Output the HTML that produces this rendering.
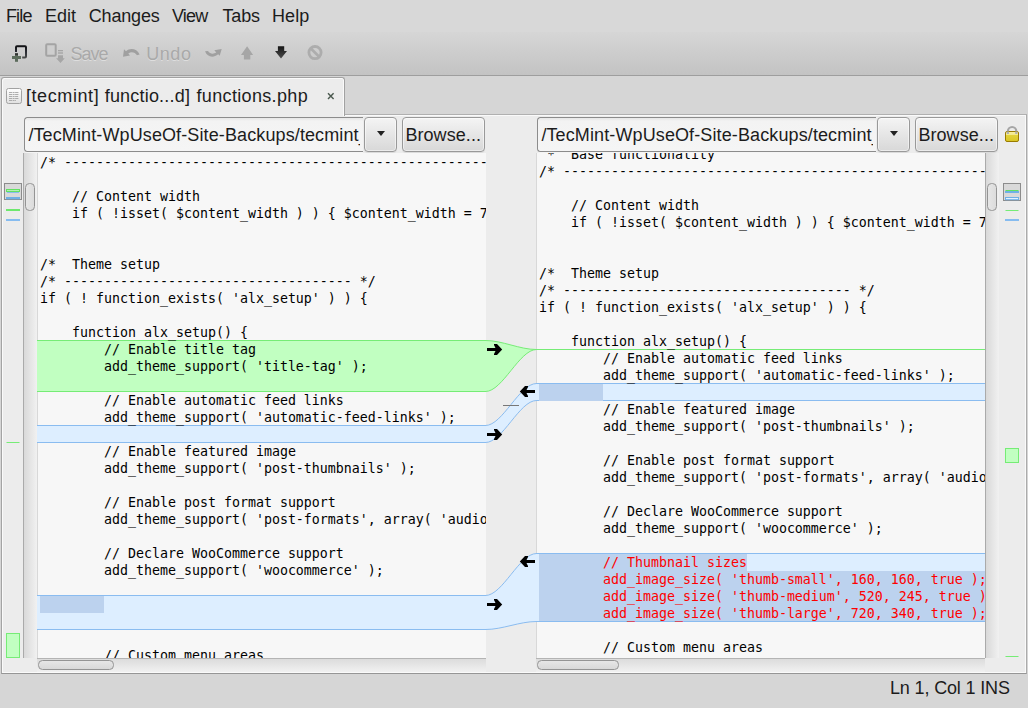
<!DOCTYPE html>
<html><head><meta charset="utf-8"><title>Meld</title>
<style>
*{box-sizing:border-box}
html,body{margin:0;padding:0}
body{width:1028px;height:708px;overflow:hidden;position:relative;background:#d6d6d6;font-family:"Liberation Sans","DejaVu Sans",sans-serif;font-size:18px;color:#1c1c1c}
.abs{position:absolute}
#menubar{left:0;top:0;width:1028px;height:32px;background:#d8d8d8}
#menubar span{position:absolute;top:4px;line-height:24px;white-space:nowrap}
#toolbar{left:0;top:32px;width:1028px;height:44px;background:linear-gradient(#d6d6d6,#c3c3c3);border-bottom:1px solid #9e9e9e}
#toolbar .lbl{position:absolute;top:10px;line-height:24px;color:#a9a9a9;text-shadow:0 1px 0 #dedede;white-space:nowrap}
#tab{left:1px;top:77px;width:344px;height:39px;background:#ececec;border:1px solid #a2a2a2;border-bottom:none;border-radius:3px 3px 0 0;box-shadow:inset 1px 1px 0 #fafafa,inset -1px 0 0 #fafafa}
#nbpage{left:1px;top:114px;width:1026px;height:560px;background:#ececec;border:1px solid #a4a4a4;border-top-color:#b0b0b0;border-right-color:#ababab;border-bottom-color:#969696;box-shadow:inset 1px 1px 0 #fafafa,inset -1px -1px 0 #fafafa}
.entry{height:35px;top:117px;border:1px solid #8c8c8c;border-right:none;border-radius:3.5px 0 0 3.5px;box-shadow:0 1px 0 #f5f5f5;background:linear-gradient(#e6e6e6,#f3f3f3 3px,#f5f5f5);overflow:hidden;white-space:nowrap;line-height:34px;padding-left:3.4px;letter-spacing:.114px}
.clip{width:331.9px;overflow:hidden;height:33px}
.btn{height:35px;top:117px;border:1px solid #999;border-radius:4px;background:linear-gradient(#f4f4f4,#d8d8d8);box-shadow:inset 0 0 0 1px rgba(255,255,255,.5),0 1px 0 rgba(0,0,0,.07);text-align:center;line-height:35px;white-space:nowrap}
.tt{top:6px;line-height:24px;white-space:nowrap}
.tv{background:#f7f7f7}
.code{position:absolute;left:0;font-family:"DejaVu Sans Mono","Liberation Mono",monospace;font-size:13.29px;line-height:17px;white-space:pre;color:#000}
.code div{height:17px}
.code .r{color:#f00}
.sbv{background:linear-gradient(90deg,#d9d9d9,#f1f1f1);border-left:1px solid #aaa}
.sbh{background:linear-gradient(#dcdcdc,#f1f1f1);border-top:1px solid #b4b4b4}
.thumb{background:linear-gradient(90deg,#e6e6e6,#dcdcdc);border:1px solid #949494;border-radius:4.5px}
.thumbh{background:linear-gradient(#e6e6e6,#d8d8d8);border:1px solid #949494;border-radius:4.5px}
.chunk{border-top:1px solid;border-bottom:1px solid}
.chunk.g{background:#c1ffc1;border-color:#76ec76}
.chunk.b{background:#ddeeff;border-color:#8abcf0}
.inl{background:#bcd2ee}
#status{left:0;top:675px;width:1028px;height:33px;background:#d6d6d6}
</style></head><body>
<div id="menubar" class="abs">
<span style="left:5.9px;letter-spacing:-.83px">File</span><span style="left:45px">Edit</span><span style="left:88.8px;letter-spacing:-.19px">Changes</span><span style="left:171.9px;letter-spacing:-.76px">View</span><span style="left:222.5px;letter-spacing:-.17px">Tabs</span><span style="left:272px;letter-spacing:.1px">Help</span>
</div>
<div id="toolbar" class="abs">
<span class="lbl" style="left:70.5px;letter-spacing:-.97px">Save</span><span class="lbl" style="left:146.3px;letter-spacing:.53px">Undo</span>
</div>
<div id="nbpage" class="abs"></div>
<div id="tab" class="abs"><span class="abs tt" style="left:23.9px;letter-spacing:.6px">[tecmint]</span><span class="abs tt" style="left:102.7px;letter-spacing:.2px">functio...d]</span><span class="abs tt" style="left:194.5px;letter-spacing:.34px">functions.php</span>
</div>

<!-- file choosers -->
<div class="abs entry" style="left:24px;width:339px"><div class="clip">/TecMint-WpUseOf-Site-Backups/tecmint_</div></div>
<div class="abs btn" style="left:364px;width:33px"><i class="abs" style="left:11.5px;top:13px;border:4.5px solid transparent;border-top:5.5px solid #222;border-bottom:none"></i></div>
<div class="abs btn" style="left:402px;width:83px;letter-spacing:.07px;text-align:left;padding-left:2.4px">Browse...</div>
<div class="abs entry" style="left:537px;width:339px"><div class="clip">/TecMint-WpUseOf-Site-Backups/tecmint_</div></div>
<div class="abs btn" style="left:877px;width:33px"><i class="abs" style="left:11.5px;top:13px;border:4.5px solid transparent;border-top:5.5px solid #222;border-bottom:none"></i></div>
<div class="abs btn" style="left:915px;width:83px;letter-spacing:.07px;text-align:left;padding-left:2.4px">Browse...</div>
<svg class="abs" style="left:0;top:32px" width="1028" height="120" viewBox="0 32 1028 120">
<defs><linearGradient id="gd" x1="0" y1="0" x2="0" y2="1"><stop offset="0" stop-color="#161616"/><stop offset="1" stop-color="#4c4c4c"/></linearGradient>
<linearGradient id="gn" gradientUnits="userSpaceOnUse" x1="0" y1="45" x2="0" y2="59"><stop offset="0" stop-color="#0c0c0e"/><stop offset=".5" stop-color="#2a2c34"/><stop offset="1" stop-color="#4e504e"/></linearGradient>
<linearGradient id="gi" x1="0" y1="0" x2="0" y2="1"><stop offset="0" stop-color="#fff"/><stop offset="1" stop-color="#e0e0e0"/></linearGradient>
<linearGradient id="gl" x1="0" y1="0" x2="0" y2="1"><stop offset="0" stop-color="#f6eea0"/><stop offset=".35" stop-color="#f3e98a"/><stop offset=".36" stop-color="#e2d23a"/><stop offset="1" stop-color="#d9c626"/></linearGradient></defs>
<!-- new -->
<path d="M16,52V47.2Q16,46.2 17,46.2H25Q26,46.2 26,47.2V56.5Q26,57.5 25,57.5H22.2" fill="none" stroke="url(#gn)" stroke-width="2"/>
<rect x="15" y="53.3" width="3" height="8.5" fill="#5c6c5c"/><rect x="12" y="56" width="9" height="3" fill="#5c6c5c"/><rect x="15" y="53.3" width="3" height="2" fill="#333"/>
<!-- save -->
<rect x="46.2" y="44.3" width="9.5" height="11.5" rx="1" fill="#cecece" stroke="#a4a4a4" stroke-width="2"/>
<rect x="58" y="50" width="5" height="1.3" fill="#a6a6a6"/><rect x="58" y="52.3" width="5" height="1.4" fill="#a6a6a6"/>
<path d="M58,55.3H63V58.2H64.8L60.5,62.9L56.1,58.2H58Z" fill="#a6a6a6"/>
<!-- undo -->
<path d="M124,49.3L123,56.8L130,55.6L128.3,53.5C131,51.5 135,52 137,55.3L139.6,54.5C137,48.5 130,47.5 126,51.3Z" fill="#a0a0a0"/>
<!-- redo -->
<path d="M205,51.3L208,50.9C210,54 213,54.3 216.3,52.6L214.3,50.3L221.7,49L219.7,55.8L218.2,54.3C213.5,58 207.5,57.5 205,51.3Z" fill="#a0a0a0"/>
<!-- up -->
<path d="M247.1,46.3L253.1,55H250.3V59.6H243.9V55H241Z" fill="#a6a6a6"/>
<!-- down -->
<path d="M277.9,46.3H284.2V51H287L281,58.6L275,51H277.9Z" fill="url(#gd)"/>
<!-- stop -->
<circle cx="315" cy="52.6" r="6.1" fill="none" stroke="#adadad" stroke-width="2.8"/><path d="M310.6,48.2L319.4,57" stroke="#adadad" stroke-width="2.7"/>
<!-- tab icon -->
<rect x="6.5" y="88.5" width="15" height="15" rx="2" fill="url(#gi)" stroke="#a2a2a2"/>
<path d="M9,92.5H19M9,94.5H19M9,96.5H18.5M9,98.5H19M9,100.5H16" stroke="#a4a4a4" stroke-width=".9" stroke-dasharray="3 .6 2 .5"/>
<!-- close -->
<path d="M328,93.3L333.6,98.9M333.6,93.3L328,98.9" stroke="#4c5a50" stroke-width="1.45"/>
<!-- lock -->
<path d="M1007.9,133V131.2A4.2,4.2 0 0 1 1016.3,131.2V133" fill="none" stroke="#a6a6a6" stroke-width="2.2"/>
<rect x="1005.5" y="131.5" width="13" height="10" rx="1.5" fill="url(#gl)" stroke="#9a7c00"/>
<path d="M1007.9,134V131.5M1016.3,134V131.5" stroke="#b0b0b0" stroke-width="2.2"/>
</svg>


<!-- left diffmap -->
<svg class="abs" style="left:0;top:152px" width="1028" height="520" viewBox="0 152 1028 520">
<rect x="4.5" y="183.5" width="17" height="16" fill="#d9d9d9" stroke="#8c8c8c"/>
<rect x="7" y="192" width="12" height="1" fill="#8abcf0"/>
<rect x="6.5" y="189.5" width="13" height="2" fill="#b4f0b4" stroke="#62e062"/>
<rect x="6" y="197" width="14" height="2.3" fill="#6fb0e6"/>
<rect x="6" y="209" width="14" height="2" fill="#6ee86e"/>
<rect x="6" y="219" width="14" height="2" fill="#86bcf0"/>
<rect x="6.5" y="442" width="13" height="1" fill="#76ec76"/>
<rect x="6.5" y="633.5" width="13" height="24" fill="#c1ffc1" stroke="#76ec76"/>
<rect x="1003.5" y="183.5" width="17" height="17" fill="#d9d9d9" stroke="#8c8c8c"/>
<rect x="1005.5" y="190" width="13" height="1" fill="#62e062"/>
<rect x="1005" y="191" width="14" height="2" fill="#6fb0e6"/>
<rect x="1005.5" y="197.5" width="13" height="2.2" fill="#e4f1ff" stroke="#6fb0e6"/>
<rect x="1005.5" y="210" width="13" height="1" fill="#76ec76"/>
<rect x="1005" y="219" width="14" height="2" fill="#86bcf0"/>
<rect x="1005.5" y="448.5" width="13" height="14" fill="#c1ffc1" stroke="#76ec76"/>
<rect x="1005.5" y="656" width="13" height="1" fill="#76ec76"/>
</svg>

<!-- left pane -->
<div class="abs sbv" style="left:23px;top:153px;width:14px;height:505px"></div>
<div class="abs thumb" style="left:25px;top:183px;width:10px;height:28px"></div>
<div class="abs tv" style="left:37px;top:153px;width:449px;height:506px;border-left:1px solid #d8d8d8"></div>
<div class="abs chunk g" style="left:37px;top:340px;width:449px;height:52px"></div>
<div class="abs chunk b" style="left:37px;top:425px;width:449px;height:18px"></div>
<div class="abs chunk b" style="left:37px;top:595px;width:449px;height:35px"></div>
<div class="abs inl" style="left:40px;top:596px;width:64px;height:17px"></div>
<div class="abs" style="left:38px;top:153px;width:448px;height:505px;overflow:hidden"><div class="code" style="top:1px;left:2px"><div>/* ------------------------------------------------------------------------- *</div><div>&nbsp;</div><div>    // Content width</div><div>    if ( !isset( $content_width ) ) { $content_width = 720; }</div><div>&nbsp;</div><div>&nbsp;</div><div>/*  Theme setup</div><div>/* ------------------------------------ */</div><div>if ( ! function_exists( 'alx_setup' ) ) {</div><div>&nbsp;</div><div>    function alx_setup() {</div><div>        // Enable title tag</div><div>        add_theme_support( 'title-tag' );</div><div>&nbsp;</div><div>        // Enable automatic feed links</div><div>        add_theme_support( 'automatic-feed-links' );</div><div>&nbsp;</div><div>        // Enable featured image</div><div>        add_theme_support( 'post-thumbnails' );</div><div>&nbsp;</div><div>        // Enable post format support</div><div>        add_theme_support( 'post-formats', array( 'audio', 'aside' ) );</div><div>&nbsp;</div><div>        // Declare WooCommerce support</div><div>        add_theme_support( 'woocommerce' );</div><div>&nbsp;</div><div>&nbsp;</div><div>&nbsp;</div><div>&nbsp;</div><div>        // Custom menu areas</div></div></div>
<div class="abs sbh" style="left:37px;top:658px;width:449px;height:14px"></div>
<div class="abs thumbh" style="left:38px;top:660px;width:76px;height:10px"></div>

<!-- right pane -->
<div class="abs tv" style="left:536px;top:153px;width:449px;height:506px;border-left:1px solid #d8d8d8"></div>
<div class="abs" style="left:536px;top:349px;width:449px;height:1px;background:#76ec76"></div>
<div class="abs chunk b" style="left:536px;top:383px;width:449px;height:18px"></div>
<div class="abs inl" style="left:539px;top:384px;width:64px;height:17px"></div>
<div class="abs chunk b" style="left:536px;top:553px;width:449px;height:69px"></div>
<div class="abs inl" style="left:539px;top:554px;width:208px;height:17px"></div>
<div class="abs inl" style="left:539px;top:571px;width:446px;height:50px"></div>
<div class="abs" style="left:537px;top:153px;width:448px;height:505px;overflow:hidden"><div class="code" style="top:-7px;left:2px"><div> *  Base functionality</div><div>/* ------------------------------------------------------------------------- *</div><div>&nbsp;</div><div>    // Content width</div><div>    if ( !isset( $content_width ) ) { $content_width = 720; }</div><div>&nbsp;</div><div>&nbsp;</div><div>/*  Theme setup</div><div>/* ------------------------------------ */</div><div>if ( ! function_exists( 'alx_setup' ) ) {</div><div>&nbsp;</div><div>    function alx_setup() {</div><div>        // Enable automatic feed links</div><div>        add_theme_support( 'automatic-feed-links' );</div><div>&nbsp;</div><div>        // Enable featured image</div><div>        add_theme_support( 'post-thumbnails' );</div><div>&nbsp;</div><div>        // Enable post format support</div><div>        add_theme_support( 'post-formats', array( 'audio', 'aside' ) );</div><div>&nbsp;</div><div>        // Declare WooCommerce support</div><div>        add_theme_support( 'woocommerce' );</div><div>&nbsp;</div><div class="r">        // Thumbnail sizes</div><div class="r">        add_image_size( 'thumb-small', 160, 160, true );</div><div class="r">        add_image_size( 'thumb-medium', 520, 245, true );</div><div class="r">        add_image_size( 'thumb-large', 720, 340, true );</div><div>&nbsp;</div><div>        // Custom menu areas</div></div></div>
<div class="abs sbv" style="left:985px;top:153px;width:14px;height:505px"></div>
<div class="abs thumb" style="left:987px;top:183px;width:10px;height:28px"></div>
<div class="abs sbh" style="left:536px;top:658px;width:449px;height:14px"></div>
<div class="abs thumbh" style="left:537px;top:660px;width:82px;height:10px"></div>

<!-- linkmap -->
<svg class="abs" style="left:486px;top:153px" width="50" height="505" viewBox="486 153 50 505">
<defs><path id="ar" d="M0,4H8.5L7,1V0H10L15.2,5.5L10,11H7V10L8.5,7H0Z"/></defs>
<path d="M485.5,340.5C502.5,340.5 519.5,349.5 536.5,349.5L536.5,349.5C519.5,349.5 502.5,391.5 485.5,391.5Z" fill="#c1ffc1" stroke="#76ec76" stroke-width="1"/>
<path d="M485.5,425.5C502.5,425.5 519.5,383.5 536.5,383.5L536.5,400.5C519.5,400.5 502.5,442.5 485.5,442.5Z" fill="#ddeeff" stroke="#8abcf0" stroke-width="1"/>
<path d="M485.5,595.5C502.5,595.5 519.5,553.5 536.5,553.5L536.5,621.5C519.5,621.5 502.5,629.5 485.5,629.5Z" fill="#ddeeff" stroke="#8abcf0" stroke-width="1"/>
<rect x="503" y="405" width="16" height="1" fill="#777"/>
<use href="#ar" x="487" y="344"/>
<use href="#ar" transform="translate(535,386) scale(-1,1)"/>
<use href="#ar" x="487" y="429"/>
<use href="#ar" transform="translate(535,556) scale(-1,1)"/>
<use href="#ar" x="487" y="599"/>
</svg>

<div id="status" class="abs"><span class="abs" style="left:890px;top:1px;line-height:24px;white-space:nowrap;letter-spacing:-.15px">Ln 1, Col 1 INS</span></div>
</body></html>
